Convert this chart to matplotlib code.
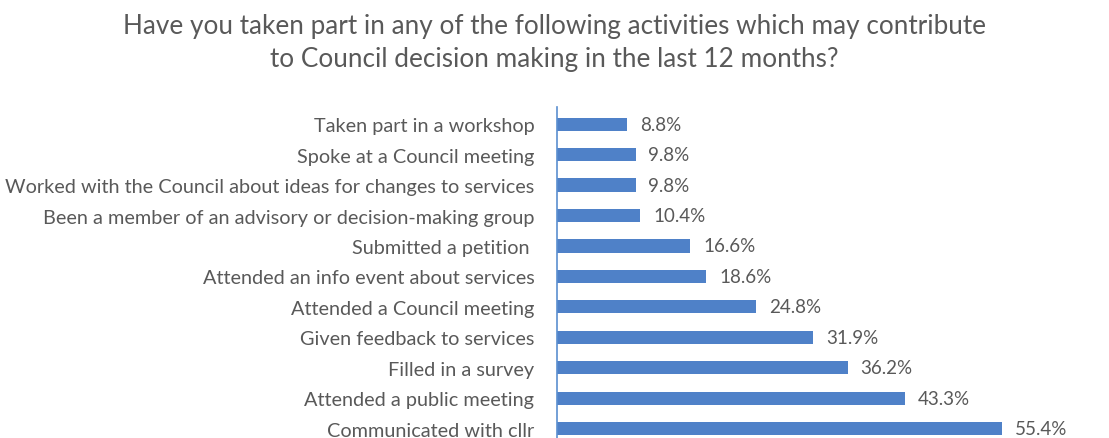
import matplotlib.pyplot as plt

plt.rcParams['font.family'] = ['Lato', 'DejaVu Sans']

# data, bottom to top
activities = [
    "Communicated with cllr",
    "Attended a public meeting",
    "Filled in a survey",
    "Given feedback to services",
    "Attended a Council meeting",
    "Attended an info event about services",
    "Submitted a petition ",
    "Been a member of an advisory or decision-making group",
    "Worked with the Council about ideas for changes to services",
    "Spoke at a Council meeting",
    "Taken part in a workshop",
]
percent = [55.4, 43.3, 36.2, 31.9, 24.8, 18.6, 16.6, 10.4, 9.8, 9.8, 8.8]

text_col = "#595959"
bar_col = "#4f81c8"

fig = plt.figure(figsize=(11.09, 4.39), dpi=100)
ax = fig.add_axes([0.502, 0.0, 0.435, 0.754])

pos = range(len(activities))
ax.barh(pos, percent, height=0.43, color=bar_col)
for p, v in zip(pos, percent):
    ax.text(v + 1.6, p, f"{v}%", va="center", ha="left", fontsize=13.5, color=text_col)

ax.set_yticks(list(pos))
ax.set_yticklabels(activities, fontsize=14.3, color=text_col)
ax.tick_params(axis="y", length=0, pad=16)
ax.set_xticks([])
ax.set_xlim(0, 60)
ax.set_ylim(-0.3, 10.56)
for s in ["top", "right", "bottom"]:
    ax.spines[s].set_visible(False)
ax.spines["left"].set_color("#5b8fd0")
ax.spines["left"].set_linewidth(1.2)

fig.text(0.5, 0.94, "Have you taken part in any of the following activities which may contribute",
         ha="center", va="center", fontsize=18.8, color=text_col)
fig.text(0.5, 0.865, "to Council decision making in the last 12 months?",
         ha="center", va="center", fontsize=18.8, color=text_col)

fig.savefig("out.png", dpi=100)
